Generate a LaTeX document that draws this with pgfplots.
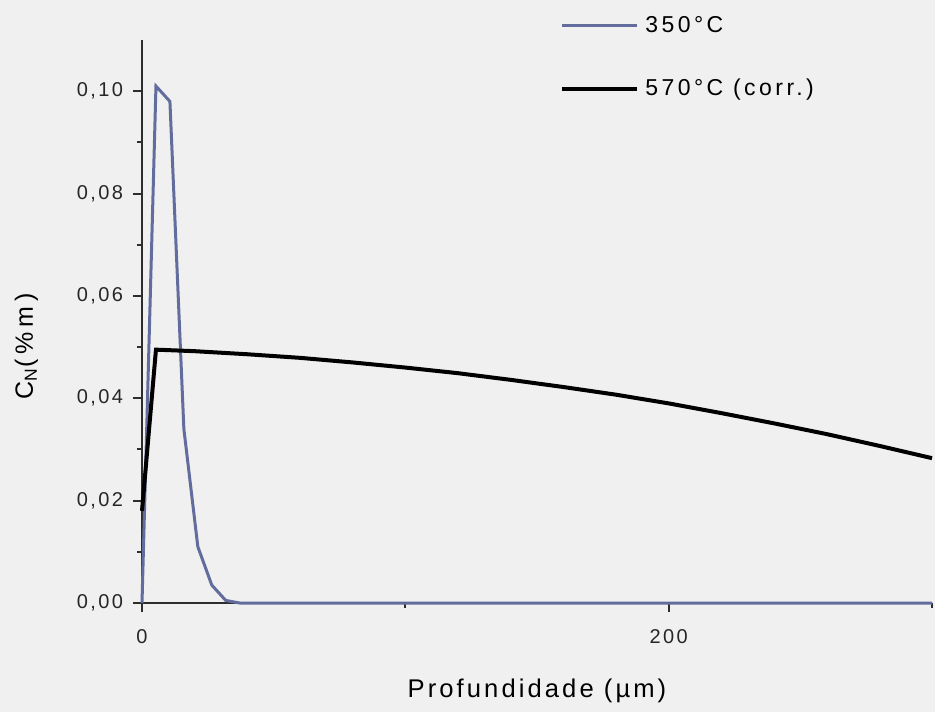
\documentclass[border=0pt]{standalone}
\usepackage{fontspec}
\setmainfont{Liberation Sans}[LetterSpace=12]
\newfontfamily\widefont{Liberation Sans}[LetterSpace=20]
\newfontfamily\legfont{Liberation Sans}[LetterSpace=15]
\usepackage{pgfplots}
\pgfplotsset{compat=1.18}

\definecolor{bgcol}{RGB}{240,240,240}
\definecolor{axcol}{RGB}{45,45,45}
\definecolor{lowT}{RGB}{98,109,158}

\begin{document}
\begin{tikzpicture}
\useasboundingbox (0,0) rectangle (467.5pt,356pt);
\fill[bgcol] (0,0) rectangle (467.5pt,356pt);
\begin{axis}[
  at={(71pt,54.5pt)}, anchor=south west,
  scale only axis, width=395pt, height=281.5pt,
  xmin=0, xmax=300, ymin=0, ymax=0.11,
  axis lines=left, axis line style={-, axcol, line width=1pt},
  clip=false,
  xtick={0,200}, minor xtick={100,300},
  ytick={0,0.02,0.04,0.06,0.08,0.10},
  minor ytick={0.01,0.03,0.05,0.07,0.09},
  tick align=outside,
  major tick length=4.5pt, minor tick length=2.5pt,
  tick style={axcol, line width=1pt},
  /pgf/number format/assume math mode=true,
  ticklabel style={font=\fontsize{10}{12}\selectfont, text=black!85},
  yticklabel style={xshift=-1.5pt,
    /pgf/number format/.cd, fixed, fixed zerofill, precision=2, use comma},
  xticklabel style={yshift=-5pt, /pgf/number format/.cd, fixed, precision=0},
  xlabel={Profundidade (\textmu m)},
  xlabel style={at={(axis description cs:0.5,0)}, anchor=base, yshift=-47pt,
    font=\fontsize{12.8}{15}\selectfont},
  ylabel={C\textsubscript{N}(\%m)},
  ylabel style={at={(axis description cs:-0.138,0.456)}, anchor=base,
    font=\widefont\fontsize{12.5}{14}\selectfont},
  legend cell align=left,
  legend style={at={(0.529,1.05)}, anchor=north west, draw=none, fill=none,
    inner sep=0pt, row sep=18pt, font=\legfont\fontsize{11.5}{13}\selectfont,
    /tikz/every odd column/.append style={column sep=1pt}},
  legend image code/.code={\draw[#1] (0pt,0pt) -- (37.5pt,0pt);},
]
% nitrided at 350 C
\addplot[lowT, line width=1.5pt] coordinates {
  (0,0) (5.3,0.101) (10.6,0.098) (15.9,0.034) (21.2,0.011)
  (26.5,0.0035) (31.8,0.0005) (37.1,0) (300,0)
};
\addlegendentry{350°C}
% nitrided at 570 C, corrected profile
\addplot[black, line width=2pt] coordinates {
  (0,0.018) (5.3,0.0495) (20,0.0492) (40,0.0486) (60,0.0479) (80,0.0470)
  (100,0.0460) (120,0.0449) (140,0.0436) (160,0.0422) (180,0.0407)
  (200,0.0390) (220,0.0371) (240,0.0351) (260,0.0330) (280,0.0307) (300,0.0283)
};
\addlegendentry{570°C (corr.)}
\end{axis}
\end{tikzpicture}
\end{document}
